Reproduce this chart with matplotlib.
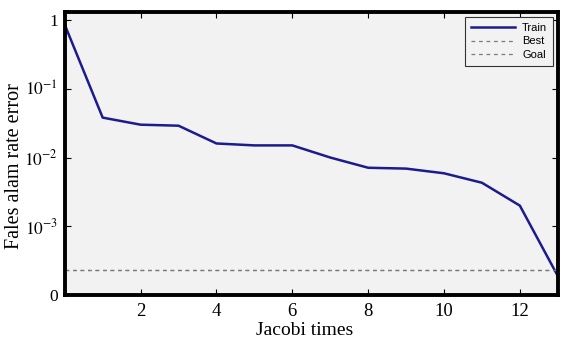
import matplotlib
matplotlib.use("Agg")
import matplotlib.pyplot as plt
import numpy as np

plt.rcParams['font.family'] = ['Liberation Serif', 'DejaVu Serif']
plt.rcParams['mathtext.fontset'] = 'stix'

# data
jacobi = [0, 1, 2, 3, 4, 5, 6, 7, 8, 9, 10, 11, 12, 13]
train_err = [0.85, 0.038, 0.030, 0.029, 0.016, 0.015, 0.015, 0.0100,
             0.0071, 0.0069, 0.0059, 0.0043, 0.0020, 0.00019]
best_err = 2.3e-4
goal_err = 2.3e-4

y_ticks = [1e-4, 1e-3, 1e-2, 1e-1, 1]
y_labels = ['0', r'$10^{-3}$', r'$10^{-2}$', r'$10^{-1}$', '1']
x_ticks = [2, 4, 6, 8, 10, 12]

fig = plt.figure(figsize=(5.68, 3.44), dpi=100)
ax = fig.add_axes([0.114, 0.142, 0.868, 0.823])
ax.set_facecolor('#f2f2f2')

ax.plot(jacobi, train_err, color='#1c1c8c', lw=1.8, label='Train')
ax.axhline(best_err, color='#7a7a7a', lw=0.9, ls=(0, (3, 3)), label='Best')
ax.axhline(goal_err, color='#7a7a7a', lw=0.9, ls=(0, (3, 3)), label='Goal')

ax.set_yscale('log')
ax.set_xlim(0, 13)
ax.set_ylim(1e-4, 1.3)
ax.set_yticks(y_ticks)
ax.set_yticklabels(y_labels)
ax.set_xticks(x_ticks)
ax.minorticks_off()
ax.tick_params(direction='in', length=4, width=0.8, top=True, right=True, pad=6)
ax.tick_params(axis='x', labelsize=13.5)
ax.tick_params(axis='y', labelsize=12.5, pad=5)

for s in ax.spines.values():
    s.set_linewidth(2.8)

ax.set_xlabel('Jacobi times', fontsize=14, va='top')
ax.xaxis.set_label_coords(0.486, -0.095)
ax.set_ylabel('Fales alam rate error', fontsize=14.5)
ax.yaxis.set_label_coords(-0.082, 0.456)

leg = ax.legend(loc='upper right', prop={'family': 'Liberation Sans', 'size': 8},
                fancybox=False, framealpha=1, edgecolor='#333333',
                handlelength=4.0, handletextpad=0.6, borderpad=0.5,
                labelspacing=0.35, borderaxespad=0.45)
leg.get_frame().set_linewidth(0.8)
leg.get_frame().set_facecolor('#f2f2f2')

fig.savefig('out.png', dpi=100)
